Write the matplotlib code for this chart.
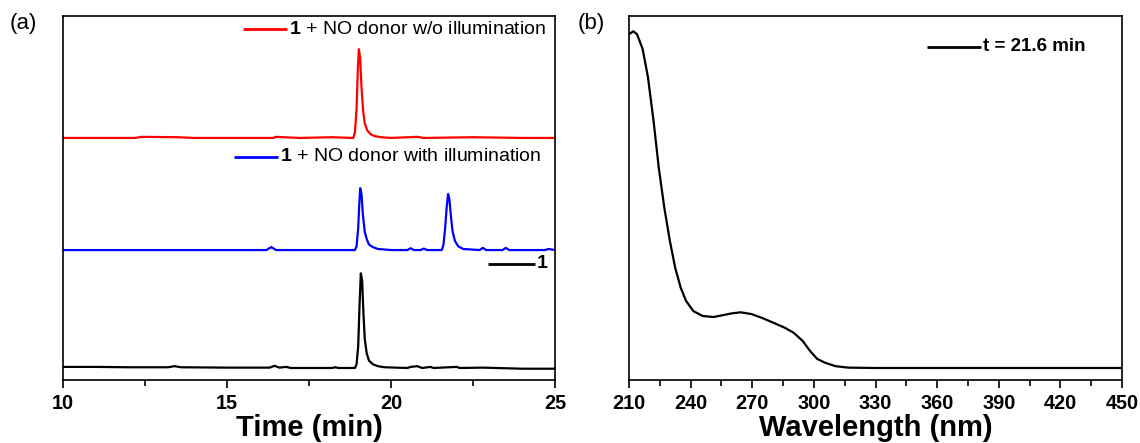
import matplotlib
matplotlib.use("Agg")
import matplotlib.pyplot as plt
from matplotlib.ticker import MultipleLocator

plt.rcParams["font.family"] = ["Liberation Sans", "DejaVu Sans"]
plt.rcParams["mathtext.fontset"] = "custom"
plt.rcParams["mathtext.rm"] = "Liberation Sans"
plt.rcParams["mathtext.bf"] = "Liberation Sans:bold"

# ---- HPLC chromatograms (time in min, signal in a.u.) ----
# compound 1 alone
t_pure = [10.0, 11.0, 12.0, 13.2, 13.4, 13.6, 15.0, 16.3, 16.45, 16.6, 16.8, 16.95,
          18.2, 18.3, 18.4, 18.9, 18.95, 19.0, 19.04, 19.08, 19.12, 19.16, 19.2,
          19.26, 19.33, 19.45, 19.6, 19.8, 20.5, 20.6, 20.8, 20.95, 21.2, 21.3,
          22.0, 22.1, 22.8, 24.0, 25.0]
sig_pure = [0.3, 0.3, 0.2, 0.2, 0.5, 0.2, 0.1, 0.1, 0.6, 0.1, 0.3, 0.0,
            0.0, 0.2, 0.0, 0.0, 1.0, 6.0, 17.0, 26.0, 24.0, 15.0, 8.0,
            4.0, 2.0, 1.0, 0.5, 0.2, 0.0, 0.3, 0.5, 0.0, 0.3, 0.0,
            0.3, 0.0, 0.1, -0.2, -0.2]

# 1 + NO donor with illumination
t_light = [10.0, 12.0, 14.0, 16.2, 16.35, 16.5, 17.0, 18.9, 18.95, 19.0, 19.03,
           19.06, 19.1, 19.14, 19.2, 19.26, 19.33, 19.45, 19.6, 20.0, 20.5, 20.6,
           20.7, 20.9, 21.0, 21.1, 21.55, 21.6, 21.65, 21.7, 21.74, 21.78, 21.83,
           21.88, 21.95, 22.05, 22.2, 22.7, 22.8, 22.9, 23.4, 23.5, 23.6, 24.7,
           24.8, 25.0]
sig_light = [0.0, 0.0, 0.0, 0.0, 0.8, 0.0, 0.0, 0.0, 1.0, 6.0, 12.0,
             17.0, 15.5, 10.0, 5.0, 3.0, 1.5, 0.8, 0.3, 0.0, 0.0, 0.5,
             0.0, 0.0, 0.4, 0.0, 0.0, 1.5, 6.0, 12.0, 15.4, 14.0, 9.0,
             5.0, 2.5, 1.0, 0.3, 0.0, 0.6, 0.0, 0.0, 0.6, 0.0, 0.0,
             0.3, 0.0]

# 1 + NO donor without illumination
t_dark = [10.0, 11.0, 12.2, 12.4, 13.5, 14.0, 15.0, 16.4, 16.5, 17.2, 18.2,
          18.85, 18.9, 18.95, 18.99, 19.02, 19.06, 19.1, 19.15, 19.2, 19.28,
          19.38, 19.5, 19.7, 20.0, 20.8, 21.0, 22.5, 24.0, 25.0]
sig_dark = [0.0, 0.0, 0.0, 0.3, 0.2, 0.0, 0.0, 0.0, 0.3, 0.0, 0.2,
            0.0, 1.5, 8.0, 19.0, 24.4, 22.0, 14.0, 7.5, 4.0, 2.0,
            1.0, 0.5, 0.2, 0.0, 0.3, 0.0, 0.2, 0.0, 0.0]

# vertical stacking of the three chromatograms
offset_pure, offset_light, offset_dark = 3.3, 35.7, 66.5

# ---- UV-vis spectrum of the 21.6 min peak ----
wavelength = [210.0, 212.1, 213.9, 216.6, 219.2, 221.9, 224.5, 227.2, 229.9, 232.5,
              235.2, 237.8, 241.4, 245.8, 251.1, 255.6, 260.0, 264.4, 269.7, 275.0,
              280.4, 285.7, 290.1, 294.6, 298.1, 301.6, 305.2, 310.5, 316.7, 330.0,
              360.0, 400.0, 450.0]
absorbance = [95.0, 95.8, 95.0, 91.0, 83.3, 71.4, 58.3, 47.3, 38.2, 30.8,
              25.3, 21.7, 18.9, 17.6, 17.3, 17.8, 18.3, 18.6, 18.1, 17.0,
              15.7, 14.4, 13.0, 10.7, 8.0, 5.8, 4.8, 3.8, 3.4, 3.3,
              3.3, 3.3, 3.3]

W, H = 1140, 443
fig = plt.figure(figsize=(W / 100, H / 100), dpi=100)
ax_a = fig.add_axes([63 / W, 1 - 380 / H, 492 / W, 364 / H])
ax_b = fig.add_axes([629 / W, 1 - 380 / H, 493 / W, 364 / H])

lw = 1.6
ax_a.plot(t_dark, [v + offset_dark for v in sig_dark], color="#ff0000", lw=lw)
ax_a.plot(t_light, [v + offset_light for v in sig_light], color="#0000ff", lw=lw)
ax_a.plot(t_pure, [v + offset_pure for v in sig_pure], color="#000000", lw=lw)
ax_a.set_xlim(10, 25)
ax_a.xaxis.set_major_locator(MultipleLocator(5))
ax_a.xaxis.set_minor_locator(MultipleLocator(2.5))
ax_a.set_xlabel("Time (min)", fontsize=21, fontweight="bold", labelpad=1)

ax_b.plot(wavelength, absorbance, color="#000000", lw=lw)
ax_b.set_xlim(210, 450)
ax_b.xaxis.set_major_locator(MultipleLocator(30))
ax_b.xaxis.set_minor_locator(MultipleLocator(15))
ax_b.set_xlabel("Wavelength (nm)", fontsize=21, fontweight="bold", labelpad=1)

for ax in (ax_a, ax_b):
    ax.set_ylim(0, 100)
    ax.set_yticks([])
    for sp in ax.spines.values():
        sp.set_linewidth(1.2)
    ax.tick_params(axis="x", which="major", direction="out", length=6, width=1.2,
                   labelsize=14.3, pad=4)
    ax.tick_params(axis="x", which="minor", direction="out", length=4, width=1.2)
    for lab in ax.get_xticklabels():
        lab.set_fontweight("bold")


def key(ax, x0, x1, y, color, label, **kw):
    ax.plot([x0, x1], [y, y], color=color, lw=2.0, transform=ax.transAxes,
            solid_capstyle="butt")
    ax.text(x1 + 0.004, y, label, transform=ax.transAxes, ha="left",
            va="center", **kw)


key(ax_a, 0.366, 0.455, 0.964, "#ff0000",
    r"$\mathbf{1}$ + NO donor w/o illumination", fontsize=14)
key(ax_a, 0.348, 0.437, 0.613, "#0000ff",
    r"$\mathbf{1}$ + NO donor with illumination", fontsize=14)
key(ax_a, 0.864, 0.959, 0.319, "#000000", "1", fontsize=14, fontweight="bold")
key(ax_b, 0.604, 0.714, 0.915, "#000000", "t = 21.6 min", fontsize=13.5,
    fontweight="bold")

fig.text(10 / W, 1 - 24 / H, "(a)", fontsize=16, ha="left", va="center")
fig.text(578 / W, 1 - 24 / H, "(b)", fontsize=16, ha="left", va="center")

fig.savefig("out.png", dpi=100)
